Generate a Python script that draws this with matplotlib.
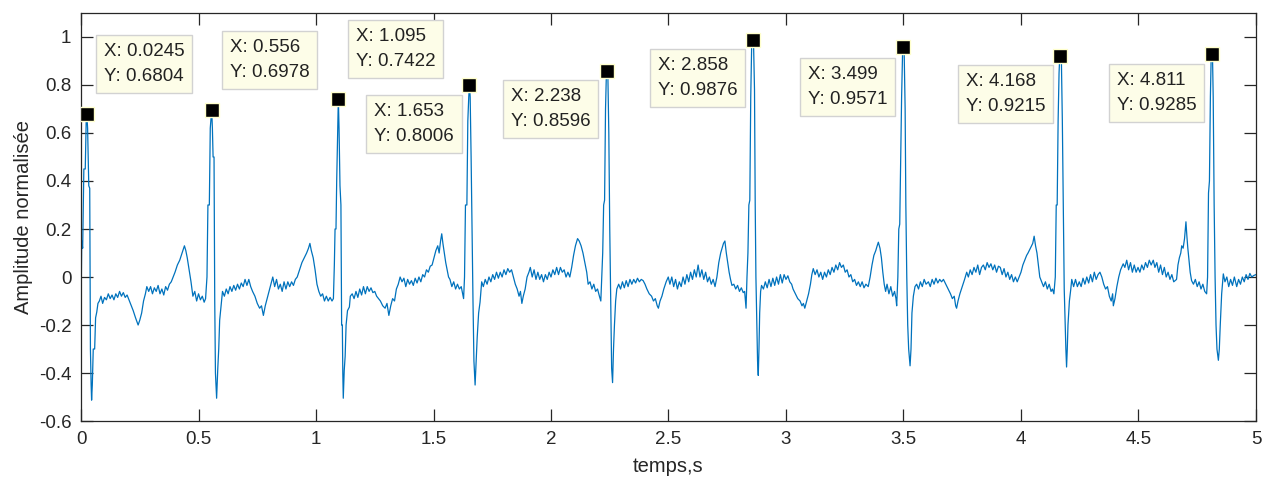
import matplotlib
matplotlib.use("Agg")
import matplotlib.pyplot as plt
from matplotlib.ticker import FuncFormatter, MultipleLocator
from matplotlib.transforms import offset_copy

plt.rcParams["font.family"] = ["Liberation Sans", "DejaVu Sans"]
plt.rcParams["axes.unicode_minus"] = False

# ECG trace, points (time in s, normalised amplitude)
t = [
    0.000, 0.003, 0.007, 0.012, 0.018, 0.022, 0.0245, 0.028, 0.033, 0.037, 0.040, 0.043, 0.045, 0.048, 0.052, 0.058, 0.062, 0.067, 0.072, 0.078,
    0.085, 0.092, 0.100, 0.108, 0.116, 0.124, 0.132, 0.140, 0.148, 0.156, 0.164, 0.172, 0.180, 0.188, 0.196,
    0.210, 0.222, 0.232, 0.243, 0.250, 0.258, 0.266, 0.274, 0.280,
    0.288, 0.296, 0.304, 0.312, 0.320, 0.328, 0.336, 0.344, 0.352, 0.360, 0.368, 0.376, 0.384,
    0.392, 0.400, 0.410, 0.420, 0.430, 0.440, 0.446, 0.452, 0.460, 0.468, 0.476,
    0.484, 0.492, 0.500, 0.508, 0.516, 0.524, 0.530,
    0.536, 0.540, 0.546, 0.550, 0.556, 0.559, 0.562, 0.566, 0.569, 0.572, 0.577, 0.582, 0.586, 0.590, 0.596, 0.602,
    0.610, 0.618, 0.626, 0.634, 0.642, 0.650, 0.658, 0.666, 0.674, 0.682, 0.690, 0.698, 0.706, 0.714, 0.722, 0.730,
    0.740, 0.750, 0.760, 0.768, 0.776, 0.784, 0.792, 0.800, 0.808, 0.816,
    0.824, 0.832, 0.840, 0.848, 0.856, 0.864, 0.872, 0.880, 0.888, 0.896, 0.904, 0.912,
    0.920, 0.930, 0.940, 0.950, 0.960, 0.968, 0.974, 0.980, 0.988, 0.996, 1.004, 1.012, 1.020,
    1.028, 1.036, 1.044, 1.052, 1.060, 1.068, 1.074,
    1.078, 1.081, 1.085, 1.088, 1.092, 1.095, 1.098, 1.102, 1.106, 1.109, 1.112, 1.114, 1.116, 1.120, 1.124, 1.128, 1.134, 1.142, 1.146,
    1.154, 1.162, 1.170, 1.178, 1.186, 1.194, 1.202, 1.210, 1.218, 1.226, 1.234, 1.242, 1.250, 1.258, 1.266,
    1.274, 1.284, 1.294, 1.302, 1.310, 1.318, 1.326, 1.334, 1.342, 1.350, 1.358,
    1.366, 1.374, 1.382, 1.390, 1.398, 1.406, 1.414, 1.422, 1.430, 1.438, 1.446, 1.454, 1.462, 1.470, 1.478, 1.486, 1.494,
    1.502, 1.510, 1.518, 1.524, 1.530, 1.535, 1.540, 1.546, 1.552, 1.558, 1.564, 1.570, 1.578, 1.586, 1.594, 1.602, 1.610, 1.618, 1.624, 1.628,
    1.632, 1.636, 1.642, 1.646, 1.650, 1.653, 1.656, 1.660, 1.664, 1.668, 1.672, 1.677, 1.680, 1.686, 1.692, 1.698, 1.705,
    1.712, 1.720, 1.728, 1.736, 1.744, 1.752, 1.760, 1.768, 1.776, 1.784, 1.792, 1.800, 1.808, 1.816, 1.824, 1.832,
    1.840, 1.848, 1.856, 1.864, 1.870, 1.876, 1.882, 1.890, 1.898, 1.906, 1.912,
    1.920, 1.928, 1.936, 1.944, 1.952, 1.960, 1.968, 1.976, 1.984, 1.992, 2.000, 2.008, 2.016, 2.024, 2.032, 2.040, 2.048, 2.056, 2.064, 2.072, 2.080,
    2.088, 2.096, 2.104, 2.113, 2.120, 2.128, 2.136, 2.144, 2.152, 2.158, 2.166, 2.174, 2.182, 2.190, 2.198, 2.206, 2.212,
    2.216, 2.220, 2.224, 2.228, 2.232, 2.235, 2.238, 2.242, 2.246, 2.250, 2.254, 2.258, 2.262, 2.266, 2.270, 2.275, 2.280,
    2.288, 2.296, 2.304, 2.312, 2.320, 2.328, 2.336, 2.344, 2.352, 2.360, 2.368, 2.376, 2.384, 2.392, 2.400,
    2.408, 2.418, 2.428, 2.436, 2.444, 2.452, 2.457, 2.464, 2.472, 2.480, 2.490, 2.499,
    2.506, 2.514, 2.522, 2.530, 2.538, 2.546, 2.554, 2.562, 2.570, 2.578, 2.586, 2.594, 2.602, 2.610, 2.618, 2.626, 2.634, 2.642, 2.650, 2.658, 2.666, 2.674, 2.682, 2.690, 2.698,
    2.706, 2.714, 2.722, 2.728, 2.734, 2.740, 2.746, 2.752, 2.758, 2.764, 2.770, 2.778, 2.786, 2.794, 2.802, 2.810, 2.818, 2.824, 2.830,
    2.834, 2.838, 2.842, 2.846, 2.850, 2.854, 2.858, 2.862, 2.866, 2.869, 2.872, 2.876, 2.879, 2.882, 2.885, 2.888, 2.892, 2.896,
    2.904, 2.912, 2.920, 2.928, 2.936, 2.944, 2.952, 2.960, 2.968, 2.976, 2.984, 2.992, 3.000, 3.008, 3.016, 3.024, 3.030,
    3.040, 3.050, 3.060, 3.068, 3.074, 3.080, 3.088, 3.096, 3.104, 3.110, 3.116,
    3.124, 3.132, 3.140, 3.148, 3.156, 3.164, 3.172, 3.180, 3.188, 3.196, 3.204, 3.212, 3.220, 3.228, 3.236, 3.244, 3.252, 3.260, 3.268, 3.276, 3.284, 3.292, 3.300, 3.308, 3.316, 3.324, 3.332, 3.340, 3.350,
    3.358, 3.366, 3.374, 3.382, 3.388, 3.393, 3.400, 3.406, 3.412, 3.418, 3.424, 3.430, 3.438, 3.446, 3.454, 3.462, 3.468, 3.471,
    3.476, 3.480, 3.484, 3.488, 3.492, 3.496, 3.499, 3.503, 3.507, 3.510, 3.514, 3.518, 3.522, 3.528, 3.532, 3.536, 3.542, 3.549,
    3.556, 3.564, 3.572, 3.580, 3.588, 3.596, 3.606, 3.614, 3.622, 3.630, 3.638, 3.646, 3.654, 3.662, 3.670, 3.680,
    3.690, 3.700, 3.708, 3.716, 3.722, 3.726, 3.732, 3.740, 3.750, 3.760, 3.769,
    3.776, 3.784, 3.792, 3.800, 3.808, 3.816, 3.824, 3.832, 3.840, 3.848, 3.856, 3.864, 3.872, 3.880, 3.888, 3.896, 3.904, 3.912, 3.920, 3.928, 3.936, 3.944, 3.952, 3.960, 3.968, 3.976, 3.984,
    3.992, 4.000, 4.008, 4.016, 4.024, 4.030, 4.040, 4.050, 4.056, 4.062, 4.068, 4.074, 4.080, 4.088, 4.096, 4.104, 4.112, 4.120, 4.128, 4.134, 4.140,
    4.146, 4.150, 4.154, 4.158, 4.162, 4.165, 4.168, 4.172, 4.176, 4.180, 4.184, 4.188, 4.191, 4.194, 4.197, 4.200, 4.206, 4.212, 4.216,
    4.224, 4.232, 4.240, 4.248, 4.256, 4.264, 4.272, 4.280, 4.288, 4.296, 4.304, 4.312, 4.320, 4.328, 4.336, 4.344,
    4.352, 4.360, 4.368, 4.376, 4.384, 4.390, 4.393, 4.400, 4.408, 4.416, 4.424, 4.435,
    4.442, 4.450, 4.458, 4.466, 4.474, 4.482, 4.490, 4.498, 4.506, 4.514, 4.522, 4.530, 4.538, 4.546, 4.554, 4.563, 4.570, 4.578, 4.586, 4.594, 4.602, 4.610, 4.618, 4.626, 4.634, 4.642, 4.650, 4.662,
    4.668, 4.674, 4.680, 4.684, 4.690, 4.696, 4.702, 4.706, 4.710, 4.716, 4.720, 4.726, 4.734, 4.742, 4.750, 4.758, 4.766, 4.774, 4.782, 4.790,
    4.794, 4.798, 4.802, 4.806, 4.809, 4.811, 4.815, 4.818, 4.822, 4.826, 4.830, 4.834, 4.840, 4.844, 4.848, 4.854, 4.861,
    4.868, 4.876, 4.884, 4.892, 4.900, 4.908, 4.918, 4.926, 4.934, 4.942, 4.950, 4.958, 4.966, 4.974, 4.982, 4.990, 5.000,
]

amp = [
    -0.13, 0.15, 0.12, 0.45, 0.45, 0.65, 0.6804, 0.62, 0.38, 0.37, -0.30, -0.45, -0.513, -0.45, -0.30, -0.30, -0.17, -0.146, -0.11, -0.10,
    -0.08, -0.11, -0.085, -0.095, -0.07, -0.09, -0.075, -0.095, -0.07, -0.085, -0.06, -0.08, -0.065, -0.085, -0.075,
    -0.11, -0.14, -0.17, -0.20, -0.18, -0.15, -0.10, -0.07, -0.04,
    -0.06, -0.04, -0.07, -0.045, -0.06, -0.035, -0.07, -0.05, -0.075, -0.04, -0.055, -0.03, -0.02,
    0.00, 0.02, 0.05, 0.07, 0.10, 0.13, 0.11, 0.08, 0.03, -0.02, -0.08,
    -0.06, -0.10, -0.07, -0.095, -0.08, -0.105, -0.09,
    0.00, 0.30, 0.30, 0.62, 0.6978, 0.62, 0.50, 0.50, -0.10, -0.40, -0.505, -0.38, -0.30, -0.18, -0.12, -0.06,
    -0.08, -0.05, -0.07, -0.04, -0.06, -0.035, -0.055, -0.03, -0.05, -0.025, -0.04, -0.01, -0.035, -0.01, -0.04, -0.06,
    -0.08, -0.11, -0.13, -0.12, -0.16, -0.12, -0.09, -0.06, -0.03, 0.00,
    -0.04, -0.01, -0.05, -0.03, -0.06, -0.02, -0.05, -0.02, -0.04, -0.02, -0.035, -0.01,
    0.00, 0.03, 0.06, 0.08, 0.10, 0.12, 0.14, 0.11, 0.08, 0.03, -0.03, -0.06, -0.08,
    -0.07, -0.10, -0.08, -0.10, -0.085, -0.10, -0.09,
    0.05, 0.20, 0.20, 0.40, 0.60, 0.7422, 0.62, 0.38, 0.30, -0.20, -0.20, -0.40, -0.505, -0.39, -0.33, -0.20, -0.14, -0.125, -0.08,
    -0.07, -0.09, -0.06, -0.085, -0.05, -0.075, -0.04, -0.07, -0.04, -0.06, -0.045, -0.065, -0.06, -0.08, -0.09,
    -0.10, -0.12, -0.13, -0.11, -0.16, -0.12, -0.09, -0.10, -0.05, -0.03, 0.00,
    -0.02, -0.005, -0.04, -0.01, -0.03, -0.015, -0.035, -0.005, -0.025, 0.00, -0.02, 0.01, 0.00, 0.03, 0.02, 0.045, 0.05,
    0.08, 0.11, 0.13, 0.10, 0.15, 0.18, 0.14, 0.10, 0.06, 0.03, 0.00, -0.01, -0.04, -0.02, -0.05, -0.03, -0.05, -0.04, -0.07, -0.09,
    0.00, 0.30, 0.30, 0.65, 0.75, 0.8006, 0.75, 0.50, 0.20, -0.10, -0.35, -0.45, -0.38, -0.25, -0.15, -0.105, -0.02,
    -0.04, -0.01, -0.03, 0.00, -0.02, 0.01, -0.01, 0.02, -0.005, 0.02, 0.00, 0.03, 0.01, 0.035, 0.02, 0.03,
    0.00, -0.03, -0.05, -0.08, -0.06, -0.11, -0.08, -0.05, 0.00, 0.02, 0.04,
    0.00, 0.03, -0.01, 0.02, -0.01, 0.01, -0.02, 0.01, -0.01, 0.02, 0.00, 0.03, 0.01, 0.04, 0.01, 0.04, 0.02, 0.03, 0.00, 0.02, 0.00,
    0.04, 0.09, 0.13, 0.16, 0.15, 0.13, 0.10, 0.06, 0.02, -0.03, -0.02, -0.05, -0.03, -0.06, -0.05, -0.08, -0.10,
    0.00, 0.10, 0.30, 0.32, 0.70, 0.82, 0.8596, 0.84, 0.60, 0.20, -0.10, -0.38, -0.44, -0.30, -0.20, -0.10, -0.05,
    -0.03, -0.05, -0.02, -0.045, -0.015, -0.04, -0.01, -0.03, -0.01, -0.025, -0.005, -0.02, -0.01, -0.015, -0.03,
    -0.05, -0.07, -0.08, -0.10, -0.09, -0.12, -0.13, -0.10, -0.08, -0.05, -0.02, 0.00,
    -0.03, 0.00, -0.04, -0.01, -0.05, -0.02, -0.04, 0.00, -0.03, 0.01, -0.02, 0.02, -0.01, 0.03, 0.00, 0.05, 0.00, 0.03, -0.01, 0.02, -0.02, 0.00, -0.03, -0.01, -0.04,
    0.00, 0.06, 0.10, 0.12, 0.14, 0.15, 0.10, 0.06, 0.02, -0.01, -0.035, -0.03, -0.05, -0.035, -0.06, -0.045, -0.065, -0.06, -0.13,
    0.00, 0.10, 0.30, 0.32, 0.75, 0.97, 0.9876, 0.97, 0.78, 0.30, 0.00, -0.20, -0.35, -0.41, -0.30, -0.15, -0.06, -0.035,
    -0.05, -0.02, -0.045, -0.01, -0.04, -0.005, -0.035, 0.00, -0.03, 0.01, -0.025, 0.01, -0.01, 0.005, -0.02, -0.03, -0.05,
    -0.07, -0.09, -0.10, -0.12, -0.11, -0.13, -0.10, -0.07, -0.03, 0.01, 0.035,
    0.01, 0.03, 0.00, 0.02, -0.01, 0.02, 0.00, 0.03, 0.01, 0.04, 0.02, 0.05, 0.03, 0.06, 0.04, 0.05, 0.02, 0.03, 0.00, 0.01, -0.02, -0.01, -0.035, -0.02, -0.04, -0.02, -0.045, -0.03, -0.04,
    0.00, 0.05, 0.09, 0.11, 0.13, 0.145, 0.12, 0.08, 0.02, -0.03, -0.06, -0.03, -0.07, -0.04, -0.08, -0.06, -0.09, -0.12,
    0.00, 0.20, 0.22, 0.50, 0.75, 0.93, 0.9571, 0.93, 0.70, 0.30, 0.00, -0.20, -0.30, -0.37, -0.30, -0.15, -0.08, -0.04,
    -0.03, -0.05, -0.02, -0.04, -0.01, -0.03, -0.02, -0.04, -0.01, -0.03, -0.005, -0.025, -0.01, -0.02, -0.01, -0.03,
    -0.05, -0.07, -0.09, -0.08, -0.12, -0.13, -0.10, -0.07, -0.04, -0.01, 0.02,
    0.00, 0.03, 0.01, 0.04, 0.02, 0.05, 0.01, 0.04, 0.05, 0.03, 0.06, 0.04, 0.055, 0.03, 0.05, 0.02, 0.045, 0.04, 0.01, 0.035, 0.00, 0.02, -0.01, 0.01, -0.02, 0.00, -0.02,
    0.00, 0.02, 0.05, 0.07, 0.09, 0.10, 0.12, 0.14, 0.17, 0.13, 0.10, 0.05, 0.00, -0.02, -0.04, -0.02, -0.05, -0.03, -0.06, -0.05, -0.07,
    0.00, 0.30, 0.30, 0.65, 0.85, 0.92, 0.9215, 0.90, 0.65, 0.30, -0.05, -0.20, -0.30, -0.375, -0.30, -0.20, -0.10, -0.05, -0.01,
    -0.04, -0.01, -0.04, -0.02, -0.04, -0.005, -0.03, 0.00, -0.025, 0.01, -0.02, 0.02, -0.01, 0.01, 0.02, 0.00,
    -0.03, -0.05, -0.04, -0.08, -0.10, -0.07, -0.12, -0.09, -0.04, 0.00, 0.03, 0.055,
    0.04, 0.07, 0.03, 0.06, 0.02, 0.05, 0.02, 0.04, 0.02, 0.05, 0.03, 0.06, 0.04, 0.07, 0.05, 0.07, 0.04, 0.06, 0.02, 0.05, 0.01, 0.04, 0.00, 0.02, -0.01, 0.01, -0.02, -0.01,
    0.05, 0.08, 0.10, 0.13, 0.12, 0.16, 0.23, 0.17, 0.12, 0.06, 0.02, -0.015, -0.03, -0.01, -0.04, -0.02, -0.05, -0.03, -0.06, -0.07,
    0.00, 0.35, 0.40, 0.75, 0.90, 0.9285, 0.92, 0.75, 0.30, 0.00, -0.20, -0.30, -0.347, -0.30, -0.20, -0.07, 0.013,
    -0.02, 0.00, -0.04, -0.01, -0.035, 0.00, -0.04, -0.01, -0.03, 0.00, -0.02, 0.01, -0.01, 0.015, 0.00, 0.006, 0.01,
]

# data tips (R peaks)
peak_t = [0.0245, 0.556, 1.095, 1.653, 2.238, 2.858, 3.499, 4.168, 4.811]
peak_amp = [0.6804, 0.6978, 0.7422, 0.8006, 0.8596, 0.9876, 0.9571, 0.9215, 0.9285]

# top-left corner of each data-tip box, in data units
tip_box = [(0.064, 1.007), (0.600, 1.024), (1.136, 1.069), (1.213, 0.758), (1.796, 0.820),
           (2.421, 0.949), (3.060, 0.912), (3.732, 0.883), (4.374, 0.887)]

dark = "#262626"

fig = plt.figure(figsize=(12.72, 4.86), dpi=100)
ax = fig.add_axes([0.0637, 0.1337, 0.9237, 0.8396])

ax.plot(t, amp, color="#0072BD", linewidth=0.9)
ax.plot(peak_t, peak_amp, linestyle="none", marker="s", markersize=9.5,
        markerfacecolor="black", markeredgecolor="#FFFFCC", markeredgewidth=1.0, zorder=5)

fs = 13.5
pad = 0.42
shifted = offset_copy(ax.transData, fig=fig, x=pad * fs, y=-pad * fs, units="points")
for (bx, by), px, py in zip(tip_box, peak_t, peak_amp):
    ax.text(bx, by, f"X: {px:g}\nY: {py:g}", transform=shifted, ha="left", va="top",
            fontsize=fs, color="#222222", linespacing=1.6, zorder=6,
            bbox=dict(boxstyle=f"square,pad={pad}", facecolor="#FDFDE8", edgecolor="#D2D2D2", linewidth=1.0))

ax.set_xlim(0, 5)
ax.set_ylim(-0.6, 1.1)
ax.xaxis.set_major_locator(MultipleLocator(0.5))
ax.set_yticks([-0.6, -0.4, -0.2, 0, 0.2, 0.4, 0.6, 0.8, 1.0])
fmt = FuncFormatter(lambda v, pos: f"{v:g}")
ax.xaxis.set_major_formatter(fmt)
ax.yaxis.set_major_formatter(fmt)

ax.tick_params(direction="in", length=8.5, width=0.9, color=dark, labelcolor=dark,
               labelsize=13.5, top=True, right=True, pad=7)
for sp in ax.spines.values():
    sp.set_color(dark)
    sp.set_linewidth(0.9)

ax.set_xlabel("temps,s", fontsize=14.5, color=dark, labelpad=7)
ax.set_ylabel("Amplitude normalisée", fontsize=14.5, color=dark, labelpad=4)

fig.savefig("out.png", dpi=100)
